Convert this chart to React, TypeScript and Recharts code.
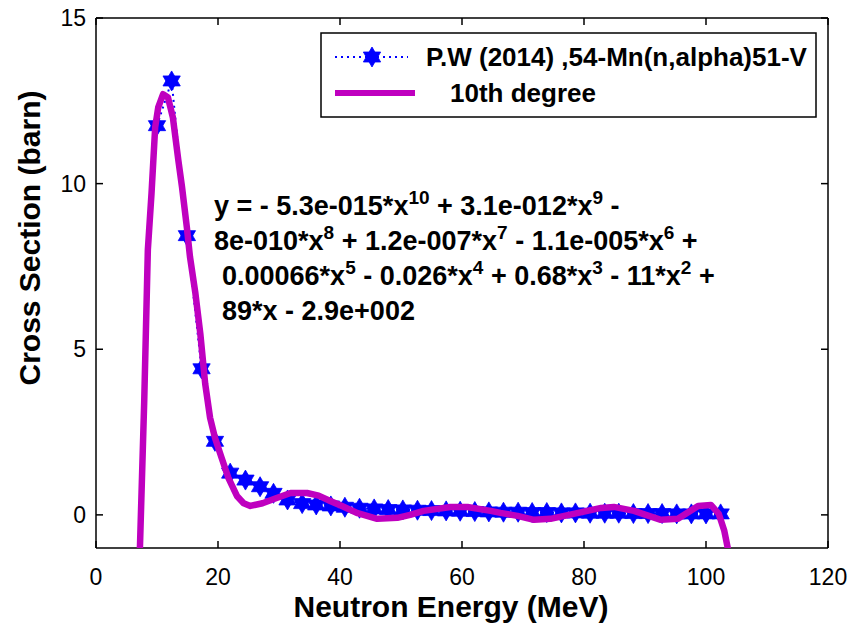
import React from 'react';
import { ComposedChart, Line, XAxis, YAxis, Customized } from 'recharts';

const FONT = '"Liberation Sans", Arial, Helvetica, sans-serif';

// Measured data points (P.W 2014, 54-Mn(n,alpha)51-V)
const energyMeV = [10.0, 12.4, 14.9, 17.3, 19.5, 22.0, 24.5, 26.9, 29.1, 31.4, 33.8, 36.1, 38.5, 40.8, 43.2, 45.6, 47.9, 50.3, 52.7, 55.0, 57.4, 59.7, 62.1, 64.4, 66.8, 69.2, 71.5, 73.9, 76.3, 78.6, 81.0, 83.4, 85.7, 88.1, 90.5, 92.8, 95.2, 97.6, 100.0, 102.4];
const crossSectionBarn = [11.75, 13.1, 8.43, 4.41, 2.22, 1.26, 1.05, 0.85, 0.65, 0.45, 0.34, 0.30, 0.27, 0.23, 0.20, 0.18, 0.16, 0.15, 0.14, 0.13, 0.12, 0.11, 0.10, 0.09, 0.08, 0.08, 0.07, 0.07, 0.06, 0.06, 0.05, 0.05, 0.05, 0.04, 0.04, 0.04, 0.03, 0.03, 0.03, 0.03];

// 10th degree fit curve
const fitEnergy = [7.0, 7.2, 7.9, 8.5, 9.1, 9.7, 10.2, 11.0, 11.8, 12.6, 13.5, 14.1, 14.9, 15.4, 16.3, 17.1, 17.9, 18.7, 19.5, 20.6, 21.7, 23.1, 24.2, 25.3, 27.3, 29.5, 31.9, 34.6, 36.5, 38.4, 40.5, 42.9, 46.1, 49.4, 51.5, 53.7, 58.1, 60.9, 64.7, 66.3, 69.1, 71.8, 74.5, 78.3, 82.8, 84.9, 88.2, 92.6, 95.4, 98.7, 100.8, 102.1, 103.0, 103.6, 103.8];
const fitValues = [-2.0, -1.0, 3.4, 8.0, 9.7, 11.7, 12.3, 12.7, 12.6, 12.0, 10.7, 9.9, 8.67, 7.8, 6.68, 5.47, 3.96, 2.93, 2.33, 1.72, 1.12, 0.57, 0.35, 0.27, 0.35, 0.5, 0.66, 0.66, 0.58, 0.42, 0.25, 0.05, -0.12, -0.09, 0.0, 0.12, 0.24, 0.24, 0.12, 0.06, -0.03, -0.15, -0.12, 0.03, 0.21, 0.24, 0.12, -0.15, -0.12, 0.27, 0.30, 0.03, -0.48, -1.03, -1.5];

const xTicks = [0, 20, 40, 60, 80, 100, 120];
const yTicks = [0, 5, 10, 15];
const xDomain = [0, 120];
const yDomain = [-1, 15];

const legendLabels = ['P.W (2014) ,54-Mn(n,alpha)51-V', '10th degree'];
const xTitle = 'Neutron Energy (MeV)';
const yTitle = 'Cross Section (barn)';

// equation segments: [text, isSuperscript]
const equationLines: [string, boolean][][] = [
  [['y = - 5.3e-015*x', false], ['10', true], [' + 3.1e-012*x', false], ['9', true], [' -', false]],
  [['8e-010*x', false], ['8', true], [' + 1.2e-007*x', false], ['7', true], [' - 1.1e-005*x', false], ['6', true], [' +', false]],
  [['0.00066*x', false], ['5', true], [' - 0.026*x', false], ['4', true], [' + 0.68*x', false], ['3', true], [' - 11*x', false], ['2', true], [' +', false]],
  [['89*x - 2.9e+002', false]],
];

const dataPoints = energyMeV.map((x, i) => ({ x, y: crossSectionBarn[i] }));
const fitPoints = fitEnergy.map((x, i) => ({ x, y: fitValues[i] }));

const BLUE = '#0000FF';
const MAGENTA = '#BF00BF';

function hexagramPath(cx: number, cy: number, r: number) {
  const pt = (a: number) => {
    const rad = (a * Math.PI) / 180;
    return `${(cx + r * Math.cos(rad)).toFixed(2)},${(cy + r * Math.sin(rad)).toFixed(2)}`;
  };
  return `M${pt(-90)}L${pt(30)}L${pt(150)}Z M${pt(90)}L${pt(210)}L${pt(330)}Z`;
}

const renderStar = (props: any) => {
  const { cx, cy, index } = props;
  if (cx == null || cy == null) return <g key={index} />;
  return <path key={index} d={hexagramPath(cx, cy, 10)} fill={BLUE} stroke={BLUE} strokeWidth={0.8} />;
};

const TICK_LEN = 7;

const BottomTick = (props: any) => {
  const { x, y, payload } = props;
  return (
    <g>
      <line x1={x} x2={x} y1={y} y2={y - TICK_LEN} stroke="#000" strokeWidth={1.5} />
      <text x={x} y={y + 37} textAnchor="middle" fontSize={23} fontFamily={FONT} fill="#000">{payload.value}</text>
    </g>
  );
};
const TopTick = (props: any) => {
  const { x, y } = props;
  return <line x1={x} x2={x} y1={y} y2={y + TICK_LEN} stroke="#000" strokeWidth={1.5} />;
};
const LeftTick = (props: any) => {
  const { x, y, payload } = props;
  return (
    <g>
      <line x1={x} x2={x + TICK_LEN} y1={y} y2={y} stroke="#000" strokeWidth={1.5} />
      <text x={x - 10} y={y + 8} textAnchor="end" fontSize={23} fontFamily={FONT} fill="#000">{payload.value}</text>
    </g>
  );
};
const RightTick = (props: any) => {
  const { x, y } = props;
  return <line x1={x} x2={x - TICK_LEN} y1={y} y2={y} stroke="#000" strokeWidth={1.5} />;
};

const eqX = [214, 214, 222, 222];
const eqBaseline = [215, 250, 285, 320];
const EQ_FONT = 27;

function renderSegs(segs: [string, boolean][]) {
  let prevSup = false;
  return segs.map(([t, sup], i) => {
    let dy = 0;
    if (sup && !prevSup) dy = -11;
    if (!sup && prevSup) dy = 11;
    prevSup = sup;
    return (
      <tspan key={i} dy={dy} fontSize={sup ? 19 : EQ_FONT}>{t}</tspan>
    );
  });
}

const Overlay = () => (
  <g fontFamily={FONT}>
    {equationLines.map((segs, i) => (
      <text key={i} x={eqX[i]} y={eqBaseline[i]} fontSize={EQ_FONT} fontWeight="bold" fill="#000" style={{ whiteSpace: 'pre' }}>
        {renderSegs(segs)}
      </text>
    ))}
    <rect x={321} y={33} width={495} height={84} fill="#fff" stroke="#000" strokeWidth={1.5} />
    <line x1={335} x2={408} y1={57} y2={57} stroke={BLUE} strokeWidth={2} strokeDasharray="2 4" />
    <path d={hexagramPath(372, 57, 10)} fill={BLUE} stroke={BLUE} strokeWidth={0.8} />
    <text x={426} y={66} fontSize={26} fontWeight="bold" fill="#000">{legendLabels[0]}</text>
    <line x1={335} x2={415} y1={93} y2={93} stroke={MAGENTA} strokeWidth={6} />
    <text x={450} y={102} fontSize={26} fontWeight="bold" fill="#000">{legendLabels[1]}</text>
    <text x={451} y={617} fontSize={30} fontWeight="bold" textAnchor="middle" fill="#000">{xTitle}</text>
    <text x={40} y={238} fontSize={30} fontWeight="bold" textAnchor="middle" fill="#000" transform="rotate(-90 40 238)">{yTitle}</text>
  </g>
);

export default function App() {
  return (
    <div style={{ width: 850, height: 627, background: '#fff' }}>
      <style>{'body{margin:0;background:#fff;}'}</style>
      <ComposedChart width={850} height={627} margin={{ top: 0, right: 0, bottom: 0, left: 0 }}>
        <XAxis xAxisId="bottom" type="number" dataKey="x" domain={xDomain} ticks={xTicks} allowDataOverflow
          orientation="bottom" height={79} axisLine={{ stroke: '#000', strokeWidth: 1.5 }} tickLine={false}
          tickSize={0} tickMargin={0} tick={<BottomTick />} interval={0} />
        <XAxis xAxisId="top" type="number" dataKey="x" domain={xDomain} ticks={xTicks} allowDataOverflow
          orientation="top" height={18} axisLine={{ stroke: '#000', strokeWidth: 1.5 }} tickLine={false}
          tickSize={0} tickMargin={0} tick={<TopTick />} interval={0} />
        <YAxis yAxisId="left" type="number" domain={yDomain} ticks={yTicks} allowDataOverflow
          orientation="left" width={96} axisLine={{ stroke: '#000', strokeWidth: 1.5 }} tickLine={false}
          tickSize={0} tickMargin={0} tick={<LeftTick />} interval={0} />
        <YAxis yAxisId="right" type="number" domain={yDomain} ticks={yTicks} allowDataOverflow
          orientation="right" width={22} axisLine={{ stroke: '#000', strokeWidth: 1.5 }} tickLine={false}
          tickSize={0} tickMargin={0} tick={<RightTick />} interval={0} />
        <Line xAxisId="bottom" yAxisId="left" data={dataPoints} dataKey="y" type="linear" stroke={BLUE}
          strokeWidth={2} strokeDasharray="2 4" dot={renderStar} activeDot={false} isAnimationActive={false} />
        <Line xAxisId="bottom" yAxisId="left" data={fitPoints} dataKey="y" type="linear" stroke={MAGENTA}
          strokeWidth={6.5} strokeLinejoin="round" dot={false} activeDot={false} isAnimationActive={false}
          {...({ zIndex: 700 } as any)} />
        <Customized component={Overlay} />
      </ComposedChart>
    </div>
  );
}
